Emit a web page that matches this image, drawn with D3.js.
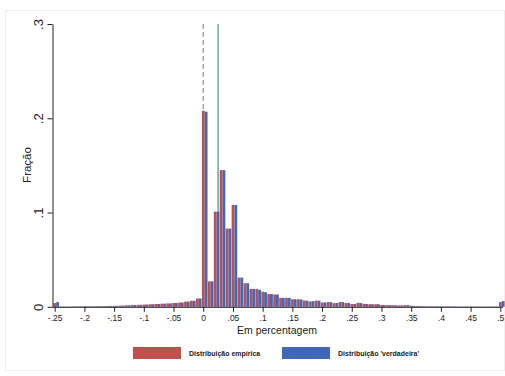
<!DOCTYPE html>
<html>
<head>
<meta charset="utf-8">
<script src="https://cdn.jsdelivr.net/npm/d3@7"></script>
<style>
  body { margin: 0; background: #fff; }
  text { font-family: "Liberation Sans", Arial, sans-serif; }
</style>
</head>
<body>
<div id="chart"></div>
<script>
// bin starts (width 0.01), from -.25 to .5
var binStarts = d3.range(76).map(function (i) { return +(-0.25 + i * 0.01).toFixed(2); });

// "Distribuição empírica" (red)
var empirica = [
  0.004, 0.0004, 0.0004, 0.0005, 0.0005, 0.0006, 0.0006, 0.0007, 0.0008, 0.0009,
  0.0010, 0.0013, 0.0016, 0.0019, 0.0021, 0.0024, 0.0027, 0.0030, 0.0033, 0.0036,
  0.0040, 0.0045, 0.0055, 0.0064, 0.0088,
  0.208, 0.027, 0.101, 0.145, 0.083, 0.108, 0.031, 0.025, 0.019, 0.019,
  0.016, 0.0135, 0.013, 0.0095, 0.0095, 0.008, 0.008, 0.0067, 0.0057, 0.0066,
  0.0046, 0.005, 0.0039, 0.005, 0.004, 0.003, 0.0042, 0.0032, 0.0028, 0.0027,
  0.0019, 0.0018, 0.0017, 0.0015, 0.0018, 0.0011, 0.0008, 0.0007, 0.0006, 0.0006,
  0.0005, 0.0005, 0.0005, 0.0004, 0.0004, 0.0004, 0.0004, 0.0004, 0.0004, 0.0004,
  0.005
];

// "Distribuição 'verdadeira'" (blue)
var verdadeira = [
  0.005, 0.0004, 0.0004, 0.0005, 0.0005, 0.0006, 0.0006, 0.0007, 0.0008, 0.0009,
  0.0010, 0.0013, 0.0016, 0.0019, 0.0021, 0.0024, 0.0027, 0.0030, 0.0033, 0.0036,
  0.0040, 0.0045, 0.0055, 0.0064, 0.0088,
  0.207, 0.027, 0.101, 0.145, 0.083, 0.108, 0.031, 0.025, 0.019, 0.018,
  0.0155, 0.0135, 0.013, 0.0095, 0.0095, 0.008, 0.0078, 0.0065, 0.006, 0.0065,
  0.0046, 0.005, 0.004, 0.005, 0.004, 0.003, 0.004, 0.003, 0.0027, 0.0027,
  0.0018, 0.0018, 0.0016, 0.0015, 0.0017, 0.001, 0.0008, 0.0007, 0.0006, 0.0006,
  0.0005, 0.0005, 0.0005, 0.0004, 0.0004, 0.0004, 0.0004, 0.0004, 0.0004, 0.0004,
  0.006
];

var xTicks = [-0.25, -0.2, -0.15, -0.1, -0.05, 0, 0.05, 0.1, 0.15, 0.2, 0.25, 0.3, 0.35, 0.4, 0.45, 0.5];
var yTicks = [0, 0.1, 0.2, 0.3];
var refLines = [0, 0.025]; // dashed at 0, solid at .025

var seriesNames = ["Distribuição empírica", "Distribuição 'verdadeira'"];
var colors = ["#c0504d", "#4068b8"];

var width = 505, height = 376;

// Format like Stata: -.25, .05, 0
function fmt(v) {
  if (v === 0) return "0";
  var s = String(+v.toFixed(2));
  return s.replace("0.", ".");
}

var svg = d3.select("#chart")
  .append("svg")
  .attr("width", width)
  .attr("height", height);

// faint outer frame
svg.append("rect")
  .attr("x", 5.5).attr("y", 10.5)
  .attr("width", 499).attr("height", 360)
  .attr("fill", "#fff")
  .attr("stroke", "#f0f0f0");

var x = d3.scaleLinear().domain([-0.25, 0.5]).range([54.7, 500.3]);
var y = d3.scaleLinear().domain([0, 0.3]).range([306.8, 24]);

// reference lines (behind bars)
svg.selectAll(".ref")
  .data(refLines)
  .enter()
  .append("line")
  .attr("x1", d => x(d))
  .attr("x2", d => x(d))
  .attr("y1", y(0.3))
  .attr("y2", y(0))
  .attr("stroke", (d, i) => i === 0 ? "#9a9a9a" : "#5e9a86")
  .attr("stroke-width", 1.3)
  .attr("stroke-dasharray", (d, i) => i === 0 ? "5,3" : null);

// bars: red on the left half, blue on the right half of each bin
var seriesData = [empirica, verdadeira];
var halfOffsets = [[-0.0022, 0.0025], [0.0025, 0.0072]];

seriesData.forEach(function (vals, s) {
  svg.append("g")
    .selectAll("rect")
    .data(binStarts.map((b, i) => ({ b: b, v: vals[i] })))
    .enter()
    .append("rect")
    .attr("x", d => x(d.b + halfOffsets[s][0]))
    .attr("width", d => x(d.b + halfOffsets[s][1]) - x(d.b + halfOffsets[s][0]))
    .attr("y", d => y(d.v))
    .attr("height", d => y(0) - y(d.v))
    .attr("fill", colors[s]);
});

// X axis
var xAxis = svg.append("g")
  .attr("transform", "translate(0," + y(0) + ")")
  .call(d3.axisBottom(x).tickValues(xTicks).tickFormat(fmt).tickSize(5).tickSizeOuter(0));
xAxis.select(".domain").attr("d", "M52.5,0.5H503").attr("stroke", "#222");
xAxis.selectAll(".tick line").attr("stroke", "#222");
xAxis.selectAll("text")
  .attr("y", 8)
  .attr("fill", "#222")
  .style("font-size", "8.5px");

// Y axis
var yAxis = svg.append("g")
  .attr("transform", "translate(52.5,0)")
  .call(d3.axisLeft(y).tickValues(yTicks).tickFormat(fmt).tickSize(5).tickSizeOuter(0));
yAxis.select(".domain").attr("stroke", "#222");
yAxis.selectAll(".tick line").attr("stroke", "#222");
yAxis.selectAll("text")
  .attr("fill", "#222")
  .attr("transform", "rotate(-90)")
  .attr("x", 0)
  .attr("y", -10)
  .attr("dy", "0")
  .style("text-anchor", "middle")
  .style("font-size", "13px");

// axis titles
svg.append("text")
  .attr("transform", "translate(31,165) rotate(-90)")
  .attr("text-anchor", "middle")
  .attr("fill", "#222")
  .style("font-size", "11.5px")
  .text("Fração");

svg.append("text")
  .attr("x", 277)
  .attr("y", 334)
  .attr("text-anchor", "middle")
  .attr("fill", "#222")
  .style("font-size", "10.5px")
  .text("Em percentagem");

// legend
var legendX = [133, 282];
var legend = svg.selectAll(".legend")
  .data(seriesNames)
  .enter()
  .append("g")
  .attr("transform", (d, i) => "translate(" + legendX[i] + ",347)");

legend.append("rect")
  .attr("width", 48)
  .attr("height", 12)
  .attr("fill", (d, i) => colors[i]);

legend.append("text")
  .attr("x", 56)
  .attr("y", 9)
  .attr("fill", "#222")
  .style("font-size", "7px")
  .style("font-weight", "bold")
  .text(d => d);
</script>
</body>
</html>
